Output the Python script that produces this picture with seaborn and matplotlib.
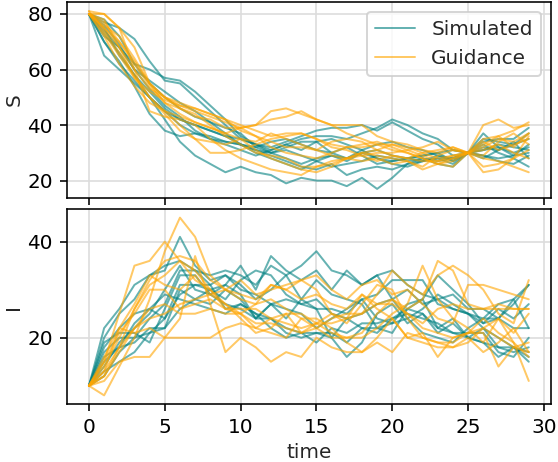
import numpy as np
import pandas as pd
import seaborn as sns
from matplotlib import pyplot as plt

sns.set_style("ticks")
plt.rcParams.update({
    "axes.grid": True, "grid.color": "#dcdcdc", "grid.linewidth": 0.8,
    "axes.edgecolor": "black", "axes.linewidth": 0.8,
    "font.size": 10, "axes.labelsize": 10, "xtick.labelsize": 10,
    "ytick.labelsize": 10, "legend.fontsize": 10,
    "xtick.major.size": 3.5, "ytick.major.size": 3.5,
    "xtick.major.width": 0.8, "ytick.major.width": 0.8,
    "xtick.color": "black", "ytick.color": "black",
})
plt.rcParams['font.family'] = ['DejaVu Sans']

time = list(range(30))

# S compartment, simulated runs
sim_S = [
    [80, 73, 66, 58, 50, 42, 34, 29, 26, 23, 25, 23, 22, 19, 21, 20, 20, 18, 21, 17, 21, 26, 28, 27, 28, 30, 33, 30, 28, 25],
    [80, 77, 75, 71, 63, 56, 55, 50, 45, 40, 35, 33, 31, 33, 35, 36, 36, 35, 37, 39, 42, 40, 37, 35, 31, 30, 35, 34, 33, 37],
    [80, 74, 68, 62, 60, 57, 56, 52, 47, 42, 36, 33, 32, 34, 36, 38, 39, 39, 40, 38, 41, 38, 35, 33, 29, 30, 34, 35, 35, 39],
    [80, 70, 62, 56, 50, 45, 42, 40, 38, 36, 35, 33, 30, 32, 34, 34, 35, 33, 31, 28, 27, 28, 27, 28, 26, 30, 32, 31, 33, 35],
    [80, 65, 60, 55, 50, 45, 40, 37, 35, 34, 33, 31, 30, 28, 26, 28, 29, 27, 30, 31, 29, 28, 29, 30, 27, 30, 31, 33, 32, 31],
    [80, 78, 72, 62, 55, 50, 46, 43, 41, 39, 37, 32, 30, 31, 29, 27, 25, 26, 27, 29, 28, 27, 28, 26, 25, 30, 29, 28, 29, 30],
    [80, 75, 65, 58, 52, 46, 42, 40, 38, 36, 33, 30, 28, 26, 24, 27, 29, 28, 30, 28, 26, 25, 27, 29, 28, 30, 31, 32, 30, 32],
    [80, 70, 63, 54, 44, 38, 36, 37, 36, 34, 33, 32, 34, 35, 33, 31, 30, 32, 29, 26, 27, 28, 29, 30, 31, 30, 28, 31, 34, 28],
    [80, 72, 68, 60, 56, 52, 48, 45, 41, 37, 33, 31, 29, 27, 25, 24, 26, 22, 24, 25, 24, 26, 27, 28, 28, 30, 29, 27, 26, 29],
    [80, 76, 69, 60, 53, 47, 43, 38, 35, 33, 31, 29, 31, 33, 31, 34, 30, 28, 31, 33, 34, 32, 31, 29, 27, 30, 37, 32, 29, 33],
]

# S compartment, guided runs
gui_S = [
    [80, 80, 75, 60, 45, 43, 42, 40, 35, 31, 28, 26, 24, 23, 22, 25, 27, 28, 29, 30, 30, 31, 29, 27, 28, 30, 35, 36, 38, 41],
    [81, 80, 75, 68, 55, 48, 44, 41, 39, 37, 39, 40, 42, 43, 45, 42, 40, 37, 35, 33, 33, 32, 30, 28, 29, 30, 23, 24, 28, 36],
    [80, 76, 72, 64, 55, 50, 47, 46, 44, 42, 40, 38, 36, 37, 37, 35, 33, 32, 33, 34, 32, 30, 28, 26, 25, 30, 28, 27, 25, 23],
    [80, 75, 70, 63, 55, 50, 46, 43, 42, 39, 39, 40, 45, 46, 44, 42, 40, 40, 40, 36, 34, 33, 31, 30, 32, 30, 40, 42, 39, 40],
    [80, 77, 70, 62, 54, 48, 46, 44, 40, 36, 33, 30, 29, 28, 25, 25, 26, 28, 30, 31, 33, 31, 32, 34, 31, 30, 32, 35, 34, 37],
    [80, 78, 68, 57, 50, 44, 38, 35, 34, 33, 35, 34, 37, 35, 33, 31, 29, 28, 27, 28, 26, 27, 24, 26, 28, 30, 25, 26, 28, 31],
    [81, 74, 66, 58, 50, 45, 40, 35, 30, 30, 31, 33, 35, 36, 37, 35, 32, 31, 29, 27, 29, 28, 27, 27, 29, 30, 33, 36, 32, 37],
    [80, 72, 62, 54, 48, 45, 43, 41, 39, 37, 35, 31, 28, 26, 24, 23, 25, 28, 30, 29, 28, 27, 25, 29, 31, 30, 34, 31, 33, 35],
    [80, 75, 68, 60, 53, 50, 48, 46, 44, 42, 38, 36, 32, 30, 29, 28, 30, 32, 32, 33, 31, 30, 28, 26, 27, 30, 31, 33, 30, 28],
    [80, 73, 65, 57, 52, 49, 47, 45, 43, 41, 39, 36, 34, 32, 32, 31, 34, 35, 34, 31, 29, 28, 30, 31, 32, 30, 29, 34, 37, 33],
]

# I compartment, simulated runs
sim_I = [
    [10, 22, 26, 31, 33, 35, 36, 34, 33, 34, 33, 31, 35, 33, 35, 38, 34, 33, 31, 33, 34, 31, 29, 28, 26, 25, 24, 24, 22, 22],
    [10, 20, 25, 28, 33, 34, 41, 35, 32, 33, 31, 28, 30, 33, 28, 26, 26, 25, 28, 29, 32, 32, 32, 27, 26, 25, 23, 24, 27, 31],
    [10, 12, 17, 20, 24, 27, 34, 34, 31, 33, 30, 29, 27, 26, 25, 22, 24, 26, 28, 24, 23, 27, 28, 33, 30, 27, 23, 26, 24, 27],
    [10, 14, 19, 22, 25, 30, 35, 30, 29, 27, 26, 24, 27, 28, 27, 28, 25, 24, 22, 21, 24, 25, 24, 23, 21, 20, 22, 20, 18, 15],
    [10, 13, 15, 17, 21, 22, 26, 28, 30, 31, 35, 30, 37, 34, 32, 34, 30, 34, 31, 33, 28, 24, 26, 29, 27, 25, 22, 18, 18, 17],
    [10, 17, 20, 20, 21, 24, 31, 31, 31, 26, 27, 25, 22, 20, 21, 19, 22, 21, 23, 23, 24, 26, 28, 22, 21, 21, 21, 17, 16, 20],
    [10, 18, 22, 25, 26, 24, 29, 31, 30, 28, 32, 34, 33, 29, 27, 26, 20, 16, 19, 25, 27, 23, 25, 21, 23, 20, 19, 18, 17, 18],
    [10, 15, 18, 19, 22, 22, 30, 28, 27, 30, 28, 24, 27, 24, 28, 32, 29, 28, 27, 22, 23, 24, 21, 20, 19, 22, 24, 27, 28, 31],
    [10, 16, 18, 23, 26, 29, 28, 27, 26, 25, 27, 25, 24, 22, 21, 21, 20, 24, 25, 27, 28, 30, 27, 28, 29, 26, 26, 24, 28, 22],
    [10, 19, 21, 21, 19, 26, 33, 33, 29, 31, 29, 24, 24, 21, 20, 21, 21, 19, 22, 22, 21, 26, 25, 22, 24, 20, 19, 16, 18, 16],
]

# I compartment, guided runs
gui_I = [
    [10, 8, 14, 20, 28, 38, 45, 41, 33, 30, 28, 27, 31, 30, 28, 29, 27, 26, 29, 27, 27, 25, 22, 21, 20, 21, 24, 21, 19, 16],
    [10, 15, 25, 35, 36, 40, 36, 34, 30, 26, 25, 23, 23, 22, 21, 23, 25, 24, 25, 29, 34, 31, 29, 33, 35, 33, 30, 25, 23, 32],
    [10, 16, 22, 27, 33, 31, 30, 33, 29, 27, 25, 22, 21, 20, 24, 22, 24, 25, 25, 27, 28, 26, 28, 36, 34, 27, 26, 27, 26, 26],
    [10, 12, 18, 26, 31, 33, 36, 32, 30, 27, 24, 21, 22, 25, 25, 23, 21, 20, 20, 22, 25, 27, 35, 28, 24, 22, 19, 24, 19, 11],
    [10, 14, 20, 26, 32, 36, 37, 36, 32, 30, 29, 28, 31, 30, 32, 33, 30, 28, 31, 32, 29, 30, 27, 24, 23, 31, 31, 30, 29, 28],
    [10, 13, 18, 22, 24, 25, 27, 28, 29, 30, 32, 29, 30, 31, 32, 30, 25, 23, 27, 31, 30, 24, 20, 19, 19, 21, 22, 20, 18, 17],
    [10, 11, 15, 16, 16, 20, 24, 37, 27, 17, 20, 18, 15, 17, 16, 20, 18, 17, 17, 20, 24, 20, 21, 16, 20, 21, 21, 14, 18, 19],
    [10, 13, 22, 21, 22, 20, 20, 20, 20, 22, 23, 22, 24, 25, 21, 22, 20, 20, 21, 25, 28, 25, 23, 26, 27, 26, 26, 26, 26, 26],
    [10, 12, 17, 22, 26, 27, 25, 25, 26, 25, 25, 27, 28, 26, 24, 24, 22, 19, 17, 19, 17, 21, 20, 19, 18, 19, 22, 24, 21, 25],
    [10, 15, 21, 25, 30, 30, 26, 27, 28, 26, 26, 26, 24, 23, 22, 23, 23, 24, 29, 26, 24, 20, 19, 18, 18, 20, 17, 19, 22, 17],
]


def to_long(runs, group, var):
    rows = []
    for k, run in enumerate(runs):
        for t, v in zip(time, run):
            rows.append({"time": t, "value": v, "run": f"{group}{k}", "group": group, "var": var})
    return rows


df = pd.DataFrame(to_long(sim_S, "Simulated", "S") + to_long(gui_S, "Guidance", "S")
                  + to_long(sim_I, "Simulated", "I") + to_long(gui_I, "Guidance", "I"))

palette = {"Simulated": "teal", "Guidance": "orange"}

dpi = 144
fig, axes = plt.subplots(2, 1, figsize=(558 / dpi, 462 / dpi), dpi=dpi, sharex=True)
fig.subplots_adjust(left=0.12, right=0.987, top=0.995, bottom=0.125, hspace=0.056)

for ax, var in zip(axes, ["S", "I"]):
    sns.lineplot(data=df[df["var"] == var], x="time", y="value", hue="group",
                 units="run", estimator=None, palette=palette, alpha=0.6,
                 linewidth=1.0, ax=ax, legend=(var == "S"))
    ax.set_ylabel(var, labelpad=2)

axes[0].set_yticks([20, 40, 60, 80])
axes[1].set_yticks([20, 40])
axes[0].set_xlabel("")
axes[1].set_xlabel("time", labelpad=3)
axes[1].set_xticks([0, 5, 10, 15, 20, 25, 30])
axes[0].legend(title=None, loc="upper right")

fig.savefig("out.png", dpi=dpi)
